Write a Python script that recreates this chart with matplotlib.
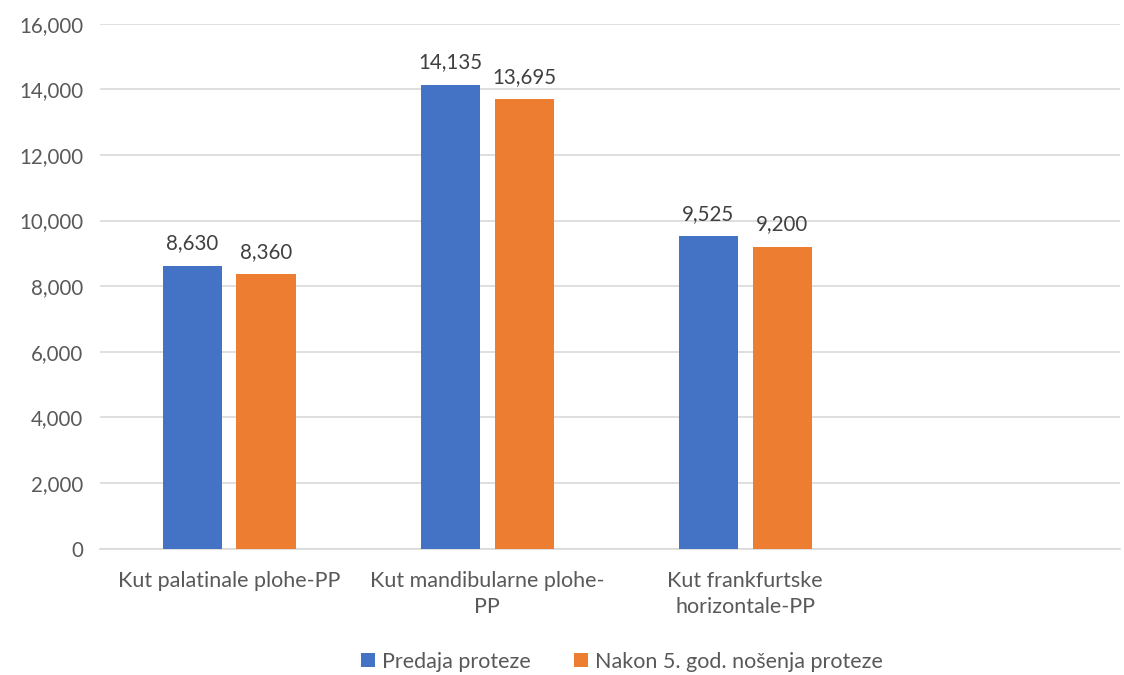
import numpy as np
import matplotlib.pyplot as plt
from matplotlib.ticker import FuncFormatter

# podaci
kategorije = ["Kut palatinale plohe-PP", "Kut mandibularne plohe-\nPP",
              "Kut frankfurtske\nhorizontale-PP", ""]
predaja = [8630, 14135, 9525]
nakon_5 = [8360, 13695, 9200]
serije = ["Predaja proteze", "Nakon 5. god. nošenja proteze"]
y_ticks = [0, 2000, 4000, 6000, 8000, 10000, 12000, 14000, 16000]

plt.rcParams['font.family'] = ['Lato', 'DejaVu Sans']

fig = plt.figure(figsize=(11.24, 6.75), dpi=100)
ax = fig.add_axes([0.089, 0.187, 0.907, 0.778])

sirina = 0.229
pomak = 0.143
x = np.arange(len(predaja))

b1 = ax.bar(x - pomak, predaja, sirina, color='#4472C4', label=serije[0], zorder=3)
b2 = ax.bar(x + pomak, nakon_5, sirina, color='#ED7D31', label=serije[1], zorder=3)

for bars in (b1, b2):
    for b in bars:
        ax.annotate(f"{b.get_height():,.0f}", (b.get_x() + b.get_width() / 2, b.get_height()),
                    xytext=(0, 9), textcoords='offset points', ha='center', va='bottom',
                    fontsize=14.8, color='#404040')

ax.set_xlim(-0.5, 3.45)
ax.set_ylim(0, 16000)
ax.set_yticks(y_ticks)
ax.yaxis.set_major_formatter(FuncFormatter(lambda v, p: f"{v:,.0f}"))
ax.set_xticks(np.arange(len(kategorije)))
ax.set_xticklabels(kategorije, fontsize=15.5, linespacing=1.35)

ax.grid(axis='y', color='#D9D9D9', linewidth=1.2, zorder=0)
for s in ['top', 'right', 'left']:
    ax.spines[s].set_visible(False)
ax.spines['bottom'].set_color('#D9D9D9')
ax.spines['bottom'].set_linewidth(1.2)
ax.tick_params(axis='both', length=0, colors='#595959')
ax.tick_params(axis='y', labelsize=14.8, pad=12)
ax.tick_params(axis='x', pad=16)

ax.legend(loc='center', bbox_to_anchor=(0.512, -0.215), ncol=2, frameon=False,
          fontsize=15.5, labelcolor='#595959', handlelength=0.65, handleheight=0.65,
          handletextpad=0.35, columnspacing=2.0)

fig.savefig("out.png")
